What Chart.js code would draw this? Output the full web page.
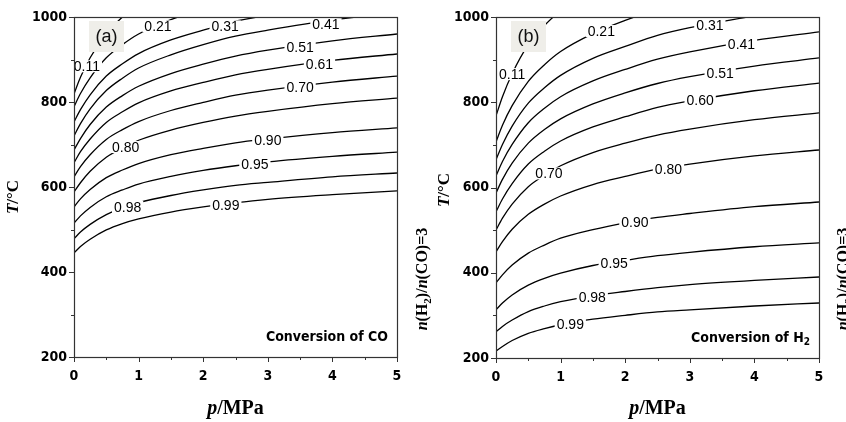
<!DOCTYPE html>
<html>
<head>
<meta charset="utf-8">
<script src="https://cdn.jsdelivr.net/npm/chart.js@4.4.1/dist/chart.umd.min.js"></script>
<style>
  html, body { margin: 0; padding: 0; background: #fff; }
  #wrap { position: relative; width: 846px; height: 422px; overflow: hidden; }
  .pane { position: absolute; top: 0; }
  #paneA { left: 0; z-index: 2; }
  #paneB { left: 423px; z-index: 1; }
</style>
</head>
<body>
<div id="wrap">
  <div class="pane" id="paneA"><canvas id="chartA" width="436" height="422"></canvas></div>
  <div class="pane" id="paneB"><canvas id="chartB" width="423" height="422"></canvas></div>
</div>
<script>
// pressure grid (MPa)
const P = [0, 0.1, 0.25, 0.5, 0.75, 1, 1.5, 2, 2.5, 3, 4, 5];

// (a) conversion of CO, temperature (°C) of each contour at P
const co011 = [819, 858, 904, 961, 1000, 1031];
const co021 = [789, 820, 857, 904, 935, 960, 994, 1018];
const co031 = [753, 782, 817, 861, 890, 914, 946, 969, 990, 1004];
const co041 = [720, 749, 784, 827, 856, 880, 911, 935, 955, 969, 993, 1010];
const co051 = [687, 714, 747, 788, 815, 837, 867, 889, 908, 922, 944, 960];
const co061 = [657, 683, 713, 752, 777, 798, 826, 846, 864, 877, 898, 913];
const co070 = [624, 648, 676, 712, 735, 754, 780, 799, 816, 828, 847, 861];
const co080 = [588, 610, 637, 670, 692, 710, 734, 752, 767, 778, 796, 809];
const co090 = [553, 572, 594, 622, 640, 655, 676, 691, 704, 713, 728, 739];
const co095 = [515, 532, 552, 577, 593, 607, 625, 639, 650, 659, 672, 682];
const co098 = [478, 494, 512, 535, 551, 563, 580, 593, 604, 611, 624, 633];
const co099 = [445, 460, 477, 499, 514, 525, 541, 553, 563, 571, 582, 591];

const coLevels = ['0.11', '0.21', '0.31', '0.41', '0.51', '0.61', '0.70', '0.80', '0.90', '0.95', '0.98', '0.99'];
const coLabelP = [0.2, 1.3, 2.34, 3.9, 3.5, 3.8, 3.5, 0.8, 3.0, 2.8, 0.83, 2.35];
const coLabelT = [884, 978, 978, 983, 929, 889, 836, 694, 710, 653, 553, 558];

// (b) conversion of H2
const h2011 = [768, 813, 867, 935, 980, 1016];
const h2021 = [707, 746, 792, 849, 888, 919, 961, 992, 1019];
const h2031 = [665, 701, 744, 798, 834, 863, 903, 931, 957, 975, 1003];
const h2041 = [627, 661, 701, 752, 786, 813, 850, 877, 901, 918, 945, 965];
const h2051 = [587, 619, 657, 704, 736, 761, 796, 822, 844, 860, 885, 904];
const h2060 = [543, 573, 609, 655, 685, 709, 742, 766, 788, 803, 827, 845];
const h2070 = [500, 528, 561, 602, 629, 651, 682, 704, 723, 737, 759, 775];
const h2080 = [449, 473, 502, 537, 561, 580, 607, 626, 643, 655, 674, 688];
const h2090 = [376, 395, 418, 446, 465, 481, 501, 517, 530, 539, 555, 566];
const h2095 = [313, 329, 348, 371, 387, 399, 417, 429, 440, 448, 461, 470];
const h2098 = [261, 274, 289, 309, 322, 332, 346, 356, 365, 372, 382, 390];
const h2099 = [216, 227, 241, 258, 269, 278, 291, 300, 308, 313, 322, 329];

const h2Levels = ['0.11', '0.21', '0.31', '0.41', '0.51', '0.60', '0.70', '0.80', '0.90', '0.95', '0.98', '0.99'];
const h2LabelP = [0.25, 1.63, 3.31, 3.8, 3.47, 3.16, 0.82, 2.67, 2.15, 1.83, 1.49, 1.15];
const h2LabelT = [866, 967, 980, 937, 869, 804, 633, 644, 518, 422, 343, 279];

const xTicks = [0, 1, 2, 3, 4, 5];
const yTicks = [200, 400, 600, 800, 1000];

const NARROW = '"Liberation Sans Narrow", "Arial Narrow", "DejaVu Sans Condensed", sans-serif';
const SANS = '"Liberation Sans", Arial, sans-serif';
const SERIF = '"Liberation Serif", "Times New Roman", serif';

function toDataset(arr) {
    return {
        data: arr.map((t, i) => ({ x: P[i], y: t })),
        borderColor: '#000',
        borderWidth: 1.3,
        pointRadius: 0,
        fill: false,
        cubicInterpolationMode: 'monotone'
    };
}

// draws text made of parts (italic / subscript), centred on (x, y), optionally rotated
function drawParts(ctx, parts, x, y, size, rotate, align) {
    ctx.save();
    ctx.translate(x, y);
    if (rotate) ctx.rotate(-Math.PI / 2);
    ctx.textBaseline = 'middle';
    ctx.textAlign = 'left';
    const fontOf = (p) => {
        const s = p.sub ? Math.round(size * 0.7) : size;
        return (p.italic ? 'italic ' : '') + 'bold ' + s + 'px ' + (p.family || SERIF);
    };
    let total = 0;
    parts.forEach(p => { ctx.font = fontOf(p); total += ctx.measureText(p.t).width; });
    let cx = align === 'right' ? -total : -total / 2;
    ctx.fillStyle = '#000';
    parts.forEach(p => {
        ctx.font = fontOf(p);
        ctx.fillText(p.t, cx, p.sub ? size * 0.3 : 0);
        cx += ctx.measureText(p.t).width;
    });
    ctx.restore();
}

const overlay = {
    id: 'overlay',
    afterDatasetsDraw(chart, args, o) {
        const ctx = chart.ctx;
        const xs = chart.scales.x, ys = chart.scales.y;
        const a = chart.chartArea;
        ctx.save();

        // contour labels
        ctx.font = '14px ' + SANS;
        ctx.textAlign = 'center';
        ctx.textBaseline = 'middle';
        o.levels.forEach((txt, i) => {
            const x = xs.getPixelForValue(o.labelP[i]);
            const y = ys.getPixelForValue(o.labelT[i]);
            const w = ctx.measureText(txt).width;
            ctx.fillStyle = '#fff';
            ctx.fillRect(x - w / 2 - 2, y - 6, w + 4, 12);
            ctx.fillStyle = '#000';
            ctx.fillText(txt, x, y + 1);
        });

        // panel tag
        ctx.fillStyle = '#efeee9';
        ctx.fillRect(a.left + 15, a.top + 4, 35, 31);
        ctx.fillStyle = '#111';
        ctx.font = '18px ' + SANS;
        ctx.fillText(o.tag, a.left + 32.5, a.top + 20);

        // frame
        ctx.strokeStyle = '#333';
        ctx.lineWidth = 1.2;
        ctx.strokeRect(Math.round(a.left) + 0.5, Math.round(a.top) + 0.5,
            Math.round(a.right - a.left), Math.round(a.bottom - a.top));

        // tick marks
        ctx.lineWidth = 1;
        ctx.beginPath();
        for (let v = 200; v <= 1000; v += 100) {
            const y = Math.round(ys.getPixelForValue(v)) + 0.5;
            const len = v % 200 === 0 ? 5 : 3;
            ctx.moveTo(a.left, y); ctx.lineTo(a.left - len, y);
        }
        for (let v = 0; v <= 5; v += 0.5) {
            const x = Math.round(xs.getPixelForValue(v)) + 0.5;
            const len = v % 1 === 0 ? 5 : 3;
            ctx.moveTo(x, a.bottom); ctx.lineTo(x, a.bottom + len);
        }
        ctx.stroke();

        // note at bottom right
        drawParts(ctx, o.note, a.right - 9, a.bottom - 20, 14, false, 'right');

        // axis titles
        drawParts(ctx, [{ t: 'T', italic: true }, { t: '/°C' }], o.yTitleX, o.yTitleY, 17, true);
        drawParts(ctx, [{ t: 'p', italic: true }, { t: '/MPa' }], (a.left + a.right) / 2, 409, 20, false);
        drawParts(ctx, [{ t: 'n', italic: true }, { t: '(H' }, { t: '2', sub: true }, { t: ')/' },
            { t: 'n', italic: true }, { t: '(CO)=3' }], o.ratioX, 279, 16, true);
        ctx.restore();
    }
};

function makeChart(id, sets, opts) {
    return new Chart(document.getElementById(id), {
        type: 'line',
        data: { datasets: sets.map(toDataset) },
        options: {
            responsive: false,
            animation: false,
            layout: { padding: { top: 17, right: opts.padRight, left: 0, bottom: 0 } },
            plugins: { legend: { display: false }, tooltip: { enabled: false }, overlay: opts },
            scales: {
                x: {
                    type: 'linear', min: 0, max: 5,
                    afterBuildTicks: (axis) => { axis.ticks = xTicks.map(v => ({ value: v })); },
                    afterFit: (axis) => { axis.height = opts.xHeight; },
                    grid: { display: false, drawTicks: false, tickLength: 0 },
                    border: { display: false },
                    ticks: {
                        color: '#000', padding: 11, maxRotation: 0,
                        callback: (v) => String(v),
                        font: { family: NARROW, size: 14, weight: 'bold' }
                    }
                },
                y: {
                    type: 'linear', min: 200, max: 1000,
                    afterBuildTicks: (axis) => { axis.ticks = yTicks.map(v => ({ value: v })); },
                    afterFit: (axis) => { axis.width = opts.yWidth; },
                    grid: { display: false, drawTicks: false, tickLength: 0 },
                    border: { display: false },
                    ticks: {
                        color: '#000', padding: 7,
                        callback: (v) => String(v),
                        font: { family: NARROW, size: 14, weight: 'bold' }
                    }
                }
            }
        },
        plugins: [overlay]
    });
}

makeChart('chartA',
    [co011, co021, co031, co041, co051, co061, co070, co080, co090, co095, co098, co099],
    {
        padRight: 39, yWidth: 74, xHeight: 65,
        levels: coLevels, labelP: coLabelP, labelT: coLabelT,
        tag: '(a)',
        note: [{ t: 'Conversion of CO', family: NARROW }],
        yTitleX: 14, yTitleY: 197, ratioX: 423
    });

makeChart('chartB',
    [h2011, h2021, h2031, h2041, h2051, h2060, h2070, h2080, h2090, h2095, h2098, h2099],
    {
        padRight: 27, yWidth: 73, xHeight: 64,
        levels: h2Levels, labelP: h2LabelP, labelT: h2LabelT,
        tag: '(b)',
        note: [{ t: 'Conversion of H', family: NARROW }, { t: '2', family: NARROW, sub: true }],
        yTitleX: 22, yTitleY: 190, ratioX: 421
    });
</script>
</body>
</html>
